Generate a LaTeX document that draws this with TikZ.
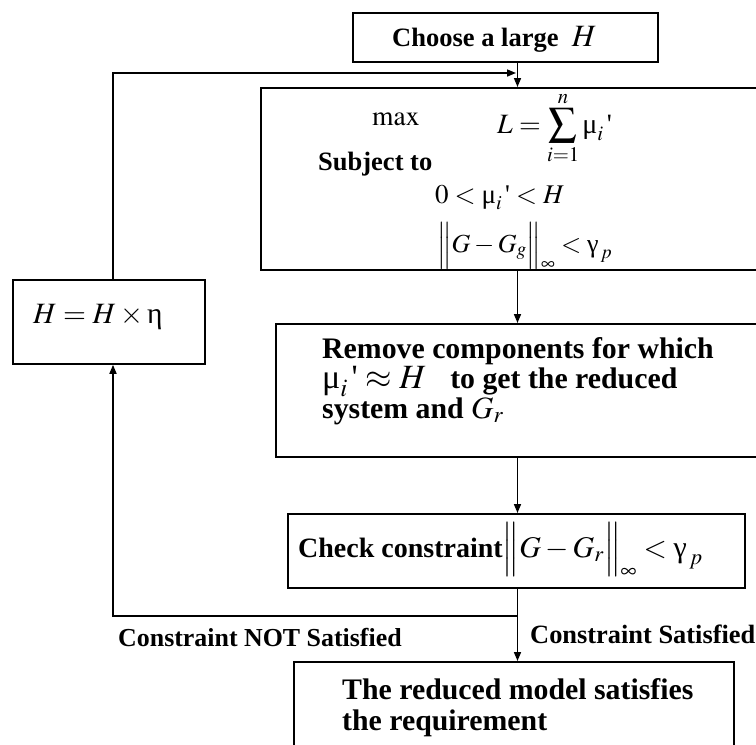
\documentclass[tikz,border=0pt]{standalone}
\usepackage{mathptmx}
\usepackage[no-math]{fontspec}
\setmainfont{Liberation Serif}
\usetikzlibrary{arrows.meta}
% upright Greek letters and a straight prime taken from the text font
\newcommand\gk[1]{\textnormal{#1}}
\newcommand\prm{\textnormal{\textquotesingle}}
\newcommand\fsz[1]{\fontsize{#1}{#1}\selectfont}
\begin{document}
\begin{tikzpicture}[x=1pt,y=-1pt,
  box/.style={draw, line width=1.8pt, inner sep=0pt, anchor=north west},
  arr/.style={line width=1.6pt, -{Triangle[length=9pt,width=7pt]}},
  txt/.style={inner sep=0pt, anchor=base west, font=\bfseries\fsz{26.5}},
  big/.style={inner sep=0pt, anchor=base west, font=\bfseries\fsz{29.8}},
  eq/.style={inner sep=0pt, anchor=base west, font=\fsz{27}}]
\useasboundingbox (0,0) rectangle (756,745);
\clip (0,0) rectangle (756,745);

% guide coordinates for the main vertical spine and the feedback loop
\coordinate (spine) at (517.5,0);
\coordinate (fb) at (113,0);
\coordinate (join) at (516,73);
\coordinate (split) at (517.5,616);

% boxes
\node[box, minimum width=305pt, minimum height=49pt] (choose) at (352,12) {};
\node[box, minimum width=520pt, minimum height=182pt] (opt) at (260,87) {};
\node[box, minimum width=505pt, minimum height=133pt] (remove) at (275,323) {};
\node[box, minimum width=457pt, minimum height=74pt] (check) at (287,513) {};
\node[box, minimum width=440pt, minimum height=110pt] (final) at (293,661) {};
\node[box, minimum width=192pt, minimum height=84pt] (upd) at (12,279) {};

% texts
\node[txt] (tchoose) at (392,46) {Choose a large\ \ {\mdseries\fsz{31}$H$}};

\node[eq, font=\fsz{27.5}] (tmax) at (372,125) {$\mathrm{max}$};
\node[eq, font=\fsz{28}] (tsum) at (497,133)
  {$\displaystyle L=\sum_{i=1}^{n}\gk{μ}_{i}\,\prm$};
\node[txt] (tsub) at (318,170) {Subject to};
\node[eq, font=\fsz{27}] (tbound) at (435,203)
  {$0<\gk{μ}_{i}\,\prm<H$};
\node[eq, font=\fsz{26}] (tnorm) at (437,252)
  {$\Big\|G-G_{g}\Big\|_{\infty}<\gk{γ}_{\,p}$};

\node[big] (trem1) at (322,358) {Remove components for which};
\node[big] (trem2) at (322,388)
  {{\mdseries\fsz{34}$\gk{μ}_{i}\,\prm\approx H$}\hspace{24pt}to get the reduced};
\node[big] (trem3) at (322,418) {system and {\mdseries\fsz{31}$G_{r}$}};

\node[big, font=\bfseries\fsz{28}] (tcheck) at (298,557)
  {Check constraint{\mdseries\fsz{30}$\Big\|G-G_{r}\Big\|_{\infty}<\gk{γ}_{\,p}$}};

\node[txt, font=\bfseries\fsz{25.9}] (tnot) at (118,646) {Constraint NOT Satisfied};
\node[txt, font=\bfseries\fsz{26.4}] (tyes) at (530,643) {Constraint Satisfied};

\node[big] (tfin1) at (342,699) {The reduced model satisfies};
\node[big] (tfin2) at (342,730) {the requirement};

\node[eq, font=\fsz{29.5}] (tupd) at (33,323) {$H=H\times\gk{η}$};

% connectors
\draw[arr] (choose.south -| spine) -- (opt.north -| spine);
\draw[arr] (upd.north -| fb) |- (join);
\draw[arr] (opt.south -| spine) -- (remove.north -| spine);
\draw[arr] (remove.south -| spine) -- (check.north -| spine);
\draw[arr] (check.south -| spine) -- (final.north -| spine);
\draw[arr] (split) -| (upd.south -| fb);
\end{tikzpicture}
\end{document}
